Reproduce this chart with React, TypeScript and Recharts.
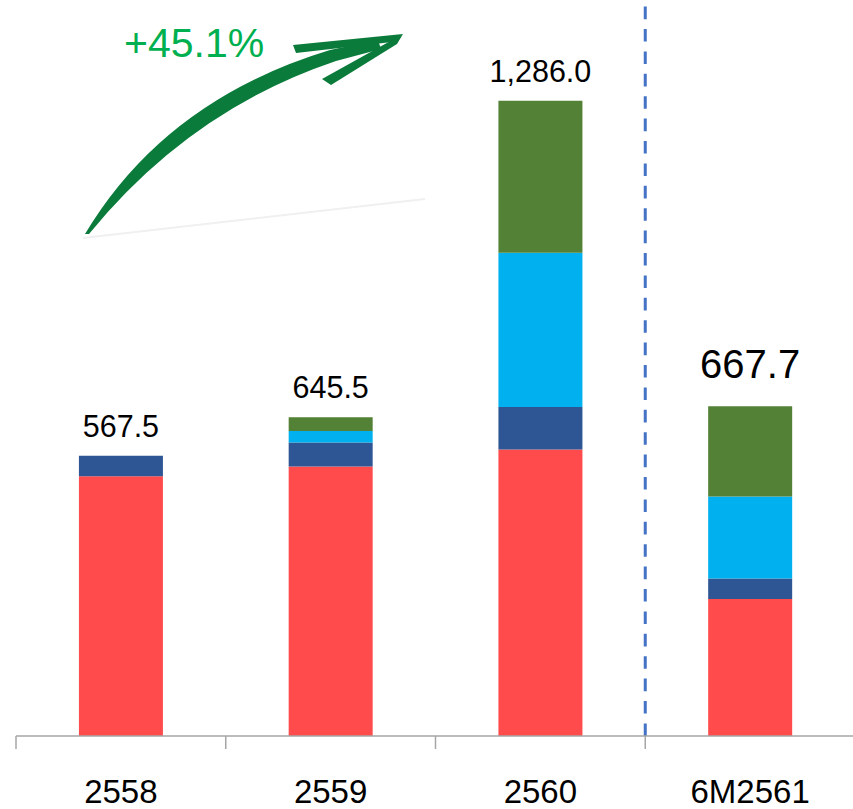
import React from 'react'
import { BarChart, Bar, XAxis, YAxis, ReferenceLine, LabelList } from 'recharts'

const categories = ['2558', '2559', '2560', '6M2561']
const redValues = [526, 545.4, 580, 277.5]
const navyValues = [41.5, 48.6, 86, 41.1]
const cyanValues = [0, 23.7, 312.5, 166.1]
const greenValues = [0, 27.8, 307.5, 183]
const totalLabels = ['567.5', '645.5', '1,286.0', '667.7']
const totalFontSizes = [30.5, 30.5, 30.5, 40]
const growthLabel = '+45.1%'

const seriesKeys = ['red', 'navy', 'cyan', 'green']
const seriesValues = [redValues, navyValues, cyanValues, greenValues]

const W = 853
const H = 809
const LEFT = 16
const RIGHT = -2
const BAND = (W - LEFT - RIGHT) / categories.length
const FONT = '"Liberation Sans", Arial, sans-serif'

const data = categories.map((name, i) => ({
  name,
  red: redValues[i],
  navy: navyValues[i],
  cyan: cyanValues[i],
  green: greenValues[i],
  label: totalLabels[i],
}))

// key of the highest non-empty segment for each category
const topSeries = categories.map((_, i) => {
  let top = seriesKeys[0]
  seriesValues.forEach((vals, s) => {
    if (vals[i] > 0) top = seriesKeys[s]
  })
  return top
})

function CategoryTick(props: any) {
  const { x, y, payload } = props
  const left = x - BAND / 2
  return (
    <g>
      <line x1={left} y1={y} x2={left} y2={y + 13} stroke="#A6A6A6" strokeWidth={1.5} />
      <text x={x} y={y + 67} textAnchor="middle" fontSize={33} fontFamily={FONT} fill="#000">
        {payload.value}
      </text>
    </g>
  )
}

const totalLabel = (seriesKey: string) => (props: any) => {
  const { x, y, width, value } = props
  const i = totalLabels.indexOf(String(value))
  if (i < 0 || topSeries[i] !== seriesKey) return null
  const size = totalFontSizes[i]
  const gap = size > 35 ? 28 : 19
  return (
    <text x={x + width / 2} y={y - gap} textAnchor="middle" fontSize={size} fontFamily={FONT} fill="#000">
      {value}
    </text>
  )
}

const colors: Record<string, string> = {
  red: '#FF4B4B',
  navy: '#2E5594',
  cyan: '#00B0EF',
  green: '#538135',
}

export default function App() {
  return (
    <div style={{ position: 'absolute', left: 0, top: 0, width: W, height: H, background: '#fff', overflow: 'hidden' }}>
      <BarChart width={W} height={H} data={data} margin={{ top: 0, right: RIGHT, left: LEFT, bottom: 0 }} barCategoryGap="30%">
        <XAxis
          dataKey="name"
          height={73}
          tickLine={false}
          tickSize={0}
          tickMargin={0}
          axisLine={{ stroke: '#A6A6A6', strokeWidth: 1.5 }}
          tick={<CategoryTick />}
          interval={0}
        />
        <YAxis hide domain={[0, 1490]} allowDataOverflow />
        {seriesKeys.map(k => (
          <Bar key={k} dataKey={k} stackId="a" fill={colors[k]} isAnimationActive={false}>
            <LabelList dataKey="label" content={totalLabel(k)} />
          </Bar>
        ))}
        <ReferenceLine
          x="6M2561"
          position="start"
          stroke="#4472C4"
          strokeWidth={3}
          strokeDasharray="12.6 9.8"
        />
      </BarChart>
      <svg
        width={W}
        height={H}
        style={{ position: 'absolute', left: 0, top: 0, pointerEvents: 'none' }}
      >
        {/* faint line under the arrow */}
        <line x1={83} y1={238} x2={425} y2={199} stroke="#F0F0F0" strokeWidth={2} />
        {/* growth arrow */}
        <path
          d="M85,234 Q165,100 330,50 L378,40 L381,49 L336,61 Q190,110 89,234 Z"
          fill="#0B7B3B"
        />
        <path d="M293,45 L403,34 L392,42 L296,53 Z" fill="#0B7B3B" />
        <path d="M322,79 L403,34 L397,44 L331,85 Z" fill="#0B7B3B" />
        <text x={124} y={57} fontSize={41} fontFamily={FONT} fill="#00B050">
          {growthLabel}
        </text>
      </svg>
    </div>
  )
}
